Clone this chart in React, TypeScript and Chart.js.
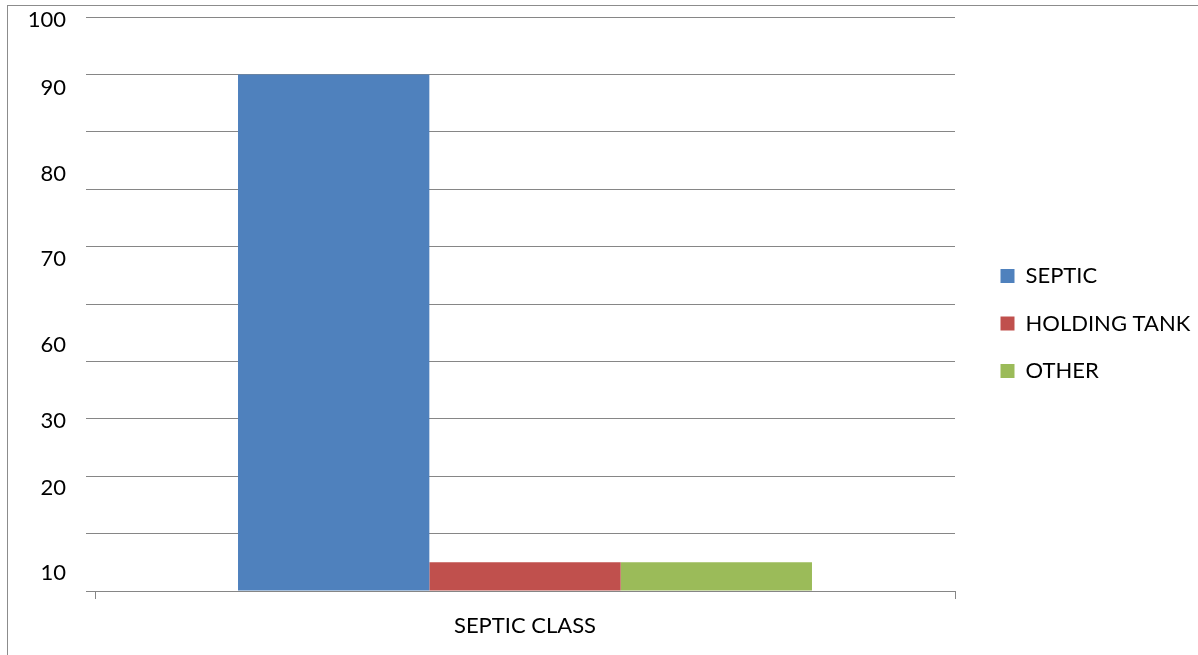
import React, { useEffect, useRef } from 'react';
import { Chart, registerables } from 'chart.js';

Chart.register(...registerables);

const categories = ['SEPTIC CLASS'];
const seriesNames = ['SEPTIC', 'HOLDING TANK', 'OTHER'];
const septicValues = [90];
const holdingTankValues = [5];
const otherValues = [5];
const seriesColors = ['#4F81BD', '#C0504D', '#9BBB59'];
// The y labels in the source are not aligned with the gridlines; they sit at these values
const yTickLabels = ['10', '20', '30', '60', '70', '80', '90', '100'];
const yTickValues = [3.1, 17.9, 29.6, 42.9, 57.8, 72.6, 87.6, 99.5];

const FONT = 'Lato';
const GRID = '#868686';

export default function App() {
  const ref = useRef<HTMLCanvasElement | null>(null);

  useEffect(() => {
    if (!ref.current) return;
    const seriesValues = [septicValues, holdingTankValues, otherValues];
    const chart = new Chart(ref.current, {
      type: 'bar',
      data: {
        labels: categories,
        datasets: seriesNames.map((name, i) => ({
          label: name,
          data: seriesValues[i],
          backgroundColor: seriesColors[i],
          borderWidth: 0,
          yAxisID: 'y',
          categoryPercentage: 0.6674,
          barPercentage: 1,
        })),
      },
      options: {
        responsive: false,
        devicePixelRatio: 1,
        animation: false,
        layout: { padding: { top: 17, left: 0, right: 0, bottom: 0 } },
        plugins: {
          tooltip: { enabled: false },
          legend: {
            position: 'right',
            align: 'center',
            fullSize: false,
            maxWidth: 223,
            title: {
              display: true,
              text: ' ',
              font: { family: FONT, size: 10, lineHeight: 1 },
              padding: { top: 15, bottom: 14 },
            },
            labels: {
              font: { family: FONT, size: 22 },
              color: '#000',
              boxWidth: 14,
              boxHeight: 14,
              padding: 25.5,
            },
          },
        },
        scales: {
          x: {
            type: 'category',
            offset: true,
            grid: {
              display: true,
              drawOnChartArea: false,
              drawTicks: true,
              tickLength: 8,
              offset: true,
              color: GRID,
            },
            border: { display: true, color: GRID },
            ticks: { font: { family: FONT, size: 22 }, color: '#000', padding: 14 },
            afterFit: (s: any) => { s.height = 64; s.paddingLeft = 0; s.paddingRight = 0; },
          },
          y: {
            position: 'left',
            weight: 0,
            min: 0,
            max: 100,
            ticks: { display: false, stepSize: 10 },
            grid: { color: GRID, lineWidth: 1, drawTicks: true, tickLength: 9 },
            border: { display: false },
            afterFit: (s: any) => { s.width = 9; s.paddingTop = 0; s.paddingBottom = 0; },
          },
          yl: {
            position: 'left',
            weight: 1,
            min: 0,
            max: 100,
            grid: { display: false, drawTicks: false },
            border: { display: false },
            ticks: {
              autoSkip: false,
              font: { family: FONT, size: 22 },
              color: '#000',
              padding: 20,
              callback: (_v: any, i: number) => yTickLabels[i],
            },
            afterBuildTicks: (s: any) => { s.ticks = yTickValues.map((v) => ({ value: v })); },
            afterFit: (s: any) => { s.width = 86; s.paddingTop = 0; s.paddingBottom = 0; },
          },
          yr: {
            position: 'right',
            min: 0,
            max: 1,
            grid: { display: false, drawTicks: false },
            border: { display: false },
            ticks: { display: false },
            afterFit: (s: any) => { s.width = 20; s.paddingTop = 0; s.paddingBottom = 0; },
          },
        },
      },
    } as any);
    return () => chart.destroy();
  }, []);

  return (
    <div style={{ position: 'fixed', left: 0, top: 0, width: 1198, height: 655, overflow: 'hidden', background: '#fff' }}>
      <div style={{ position: 'absolute', left: 7, top: 5, width: 1300, height: 800, borderLeft: '1px solid #8c8c8c', borderTop: '1px solid #8c8c8c' }} />
      <canvas ref={ref} width={1198} height={655} style={{ position: 'absolute', left: 0, top: 0, width: 1198, height: 655 }} />
    </div>
  );
}
